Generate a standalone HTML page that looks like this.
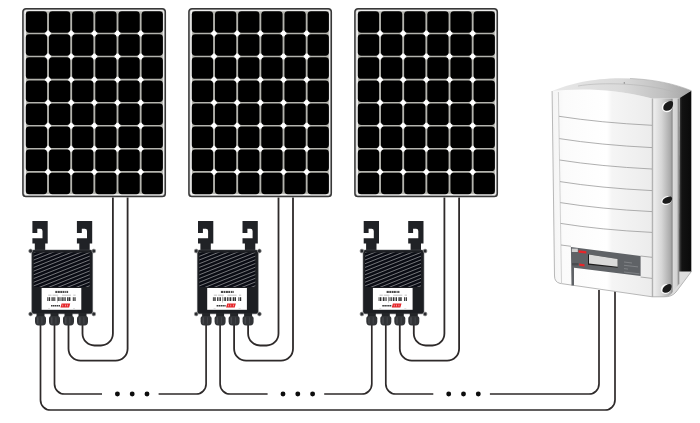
<!DOCTYPE html>
<html><head><meta charset="utf-8"><style>
html,body{margin:0;padding:0;background:#fff;width:700px;height:423px;overflow:hidden}
svg{display:block}
</style></head><body>
<svg width="700" height="423" viewBox="0 0 700 423">
<rect x="23.00" y="8.80" width="142.20" height="187.70" rx="3" fill="#fff" stroke="#383838" stroke-width="1.7"/>
<rect x="24.00" y="9.80" width="140.20" height="185.70" rx="2" fill="none" stroke="#9a9a9a" stroke-width="0.6"/>
<rect x="25.80" y="11.20" width="137.10" height="182.99" fill="#b4b4ae"/>
<circle cx="48.03" cy="33.48" r="3" fill="#fff"/>
<circle cx="48.03" cy="56.56" r="3" fill="#fff"/>
<circle cx="48.03" cy="79.63" r="3" fill="#fff"/>
<circle cx="48.03" cy="102.70" r="3" fill="#fff"/>
<circle cx="48.03" cy="125.77" r="3" fill="#fff"/>
<circle cx="48.03" cy="148.84" r="3" fill="#fff"/>
<circle cx="48.03" cy="171.91" r="3" fill="#fff"/>
<circle cx="71.19" cy="33.48" r="3" fill="#fff"/>
<circle cx="71.19" cy="56.56" r="3" fill="#fff"/>
<circle cx="71.19" cy="79.63" r="3" fill="#fff"/>
<circle cx="71.19" cy="102.70" r="3" fill="#fff"/>
<circle cx="71.19" cy="125.77" r="3" fill="#fff"/>
<circle cx="71.19" cy="148.84" r="3" fill="#fff"/>
<circle cx="71.19" cy="171.91" r="3" fill="#fff"/>
<circle cx="94.35" cy="33.48" r="3" fill="#fff"/>
<circle cx="94.35" cy="56.56" r="3" fill="#fff"/>
<circle cx="94.35" cy="79.63" r="3" fill="#fff"/>
<circle cx="94.35" cy="102.70" r="3" fill="#fff"/>
<circle cx="94.35" cy="125.77" r="3" fill="#fff"/>
<circle cx="94.35" cy="148.84" r="3" fill="#fff"/>
<circle cx="94.35" cy="171.91" r="3" fill="#fff"/>
<circle cx="117.51" cy="33.48" r="3" fill="#fff"/>
<circle cx="117.51" cy="56.56" r="3" fill="#fff"/>
<circle cx="117.51" cy="79.63" r="3" fill="#fff"/>
<circle cx="117.51" cy="102.70" r="3" fill="#fff"/>
<circle cx="117.51" cy="125.77" r="3" fill="#fff"/>
<circle cx="117.51" cy="148.84" r="3" fill="#fff"/>
<circle cx="117.51" cy="171.91" r="3" fill="#fff"/>
<circle cx="140.67" cy="33.48" r="3" fill="#fff"/>
<circle cx="140.67" cy="56.56" r="3" fill="#fff"/>
<circle cx="140.67" cy="79.63" r="3" fill="#fff"/>
<circle cx="140.67" cy="102.70" r="3" fill="#fff"/>
<circle cx="140.67" cy="125.77" r="3" fill="#fff"/>
<circle cx="140.67" cy="148.84" r="3" fill="#fff"/>
<circle cx="140.67" cy="171.91" r="3" fill="#fff"/>
<rect x="25.80" y="11.20" width="21.3" height="21.5" rx="3.4" fill="#000"/>
<rect x="25.80" y="34.27" width="21.3" height="21.5" rx="3.4" fill="#000"/>
<rect x="25.80" y="57.34" width="21.3" height="21.5" rx="3.4" fill="#000"/>
<rect x="25.80" y="80.41" width="21.3" height="21.5" rx="3.4" fill="#000"/>
<rect x="25.80" y="103.48" width="21.3" height="21.5" rx="3.4" fill="#000"/>
<rect x="25.80" y="126.55" width="21.3" height="21.5" rx="3.4" fill="#000"/>
<rect x="25.80" y="149.62" width="21.3" height="21.5" rx="3.4" fill="#000"/>
<rect x="25.80" y="172.69" width="21.3" height="21.5" rx="3.4" fill="#000"/>
<rect x="48.96" y="11.20" width="21.3" height="21.5" rx="3.4" fill="#000"/>
<rect x="48.96" y="34.27" width="21.3" height="21.5" rx="3.4" fill="#000"/>
<rect x="48.96" y="57.34" width="21.3" height="21.5" rx="3.4" fill="#000"/>
<rect x="48.96" y="80.41" width="21.3" height="21.5" rx="3.4" fill="#000"/>
<rect x="48.96" y="103.48" width="21.3" height="21.5" rx="3.4" fill="#000"/>
<rect x="48.96" y="126.55" width="21.3" height="21.5" rx="3.4" fill="#000"/>
<rect x="48.96" y="149.62" width="21.3" height="21.5" rx="3.4" fill="#000"/>
<rect x="48.96" y="172.69" width="21.3" height="21.5" rx="3.4" fill="#000"/>
<rect x="72.12" y="11.20" width="21.3" height="21.5" rx="3.4" fill="#000"/>
<rect x="72.12" y="34.27" width="21.3" height="21.5" rx="3.4" fill="#000"/>
<rect x="72.12" y="57.34" width="21.3" height="21.5" rx="3.4" fill="#000"/>
<rect x="72.12" y="80.41" width="21.3" height="21.5" rx="3.4" fill="#000"/>
<rect x="72.12" y="103.48" width="21.3" height="21.5" rx="3.4" fill="#000"/>
<rect x="72.12" y="126.55" width="21.3" height="21.5" rx="3.4" fill="#000"/>
<rect x="72.12" y="149.62" width="21.3" height="21.5" rx="3.4" fill="#000"/>
<rect x="72.12" y="172.69" width="21.3" height="21.5" rx="3.4" fill="#000"/>
<rect x="95.28" y="11.20" width="21.3" height="21.5" rx="3.4" fill="#000"/>
<rect x="95.28" y="34.27" width="21.3" height="21.5" rx="3.4" fill="#000"/>
<rect x="95.28" y="57.34" width="21.3" height="21.5" rx="3.4" fill="#000"/>
<rect x="95.28" y="80.41" width="21.3" height="21.5" rx="3.4" fill="#000"/>
<rect x="95.28" y="103.48" width="21.3" height="21.5" rx="3.4" fill="#000"/>
<rect x="95.28" y="126.55" width="21.3" height="21.5" rx="3.4" fill="#000"/>
<rect x="95.28" y="149.62" width="21.3" height="21.5" rx="3.4" fill="#000"/>
<rect x="95.28" y="172.69" width="21.3" height="21.5" rx="3.4" fill="#000"/>
<rect x="118.44" y="11.20" width="21.3" height="21.5" rx="3.4" fill="#000"/>
<rect x="118.44" y="34.27" width="21.3" height="21.5" rx="3.4" fill="#000"/>
<rect x="118.44" y="57.34" width="21.3" height="21.5" rx="3.4" fill="#000"/>
<rect x="118.44" y="80.41" width="21.3" height="21.5" rx="3.4" fill="#000"/>
<rect x="118.44" y="103.48" width="21.3" height="21.5" rx="3.4" fill="#000"/>
<rect x="118.44" y="126.55" width="21.3" height="21.5" rx="3.4" fill="#000"/>
<rect x="118.44" y="149.62" width="21.3" height="21.5" rx="3.4" fill="#000"/>
<rect x="118.44" y="172.69" width="21.3" height="21.5" rx="3.4" fill="#000"/>
<rect x="141.60" y="11.20" width="21.3" height="21.5" rx="3.4" fill="#000"/>
<rect x="141.60" y="34.27" width="21.3" height="21.5" rx="3.4" fill="#000"/>
<rect x="141.60" y="57.34" width="21.3" height="21.5" rx="3.4" fill="#000"/>
<rect x="141.60" y="80.41" width="21.3" height="21.5" rx="3.4" fill="#000"/>
<rect x="141.60" y="103.48" width="21.3" height="21.5" rx="3.4" fill="#000"/>
<rect x="141.60" y="126.55" width="21.3" height="21.5" rx="3.4" fill="#000"/>
<rect x="141.60" y="149.62" width="21.3" height="21.5" rx="3.4" fill="#000"/>
<rect x="141.60" y="172.69" width="21.3" height="21.5" rx="3.4" fill="#000"/>
<rect x="189.00" y="8.80" width="142.20" height="187.70" rx="3" fill="#fff" stroke="#383838" stroke-width="1.7"/>
<rect x="190.00" y="9.80" width="140.20" height="185.70" rx="2" fill="none" stroke="#9a9a9a" stroke-width="0.6"/>
<rect x="191.80" y="11.20" width="137.10" height="182.99" fill="#b4b4ae"/>
<circle cx="214.03" cy="33.48" r="3" fill="#fff"/>
<circle cx="214.03" cy="56.56" r="3" fill="#fff"/>
<circle cx="214.03" cy="79.63" r="3" fill="#fff"/>
<circle cx="214.03" cy="102.70" r="3" fill="#fff"/>
<circle cx="214.03" cy="125.77" r="3" fill="#fff"/>
<circle cx="214.03" cy="148.84" r="3" fill="#fff"/>
<circle cx="214.03" cy="171.91" r="3" fill="#fff"/>
<circle cx="237.19" cy="33.48" r="3" fill="#fff"/>
<circle cx="237.19" cy="56.56" r="3" fill="#fff"/>
<circle cx="237.19" cy="79.63" r="3" fill="#fff"/>
<circle cx="237.19" cy="102.70" r="3" fill="#fff"/>
<circle cx="237.19" cy="125.77" r="3" fill="#fff"/>
<circle cx="237.19" cy="148.84" r="3" fill="#fff"/>
<circle cx="237.19" cy="171.91" r="3" fill="#fff"/>
<circle cx="260.35" cy="33.48" r="3" fill="#fff"/>
<circle cx="260.35" cy="56.56" r="3" fill="#fff"/>
<circle cx="260.35" cy="79.63" r="3" fill="#fff"/>
<circle cx="260.35" cy="102.70" r="3" fill="#fff"/>
<circle cx="260.35" cy="125.77" r="3" fill="#fff"/>
<circle cx="260.35" cy="148.84" r="3" fill="#fff"/>
<circle cx="260.35" cy="171.91" r="3" fill="#fff"/>
<circle cx="283.51" cy="33.48" r="3" fill="#fff"/>
<circle cx="283.51" cy="56.56" r="3" fill="#fff"/>
<circle cx="283.51" cy="79.63" r="3" fill="#fff"/>
<circle cx="283.51" cy="102.70" r="3" fill="#fff"/>
<circle cx="283.51" cy="125.77" r="3" fill="#fff"/>
<circle cx="283.51" cy="148.84" r="3" fill="#fff"/>
<circle cx="283.51" cy="171.91" r="3" fill="#fff"/>
<circle cx="306.67" cy="33.48" r="3" fill="#fff"/>
<circle cx="306.67" cy="56.56" r="3" fill="#fff"/>
<circle cx="306.67" cy="79.63" r="3" fill="#fff"/>
<circle cx="306.67" cy="102.70" r="3" fill="#fff"/>
<circle cx="306.67" cy="125.77" r="3" fill="#fff"/>
<circle cx="306.67" cy="148.84" r="3" fill="#fff"/>
<circle cx="306.67" cy="171.91" r="3" fill="#fff"/>
<rect x="191.80" y="11.20" width="21.3" height="21.5" rx="3.4" fill="#000"/>
<rect x="191.80" y="34.27" width="21.3" height="21.5" rx="3.4" fill="#000"/>
<rect x="191.80" y="57.34" width="21.3" height="21.5" rx="3.4" fill="#000"/>
<rect x="191.80" y="80.41" width="21.3" height="21.5" rx="3.4" fill="#000"/>
<rect x="191.80" y="103.48" width="21.3" height="21.5" rx="3.4" fill="#000"/>
<rect x="191.80" y="126.55" width="21.3" height="21.5" rx="3.4" fill="#000"/>
<rect x="191.80" y="149.62" width="21.3" height="21.5" rx="3.4" fill="#000"/>
<rect x="191.80" y="172.69" width="21.3" height="21.5" rx="3.4" fill="#000"/>
<rect x="214.96" y="11.20" width="21.3" height="21.5" rx="3.4" fill="#000"/>
<rect x="214.96" y="34.27" width="21.3" height="21.5" rx="3.4" fill="#000"/>
<rect x="214.96" y="57.34" width="21.3" height="21.5" rx="3.4" fill="#000"/>
<rect x="214.96" y="80.41" width="21.3" height="21.5" rx="3.4" fill="#000"/>
<rect x="214.96" y="103.48" width="21.3" height="21.5" rx="3.4" fill="#000"/>
<rect x="214.96" y="126.55" width="21.3" height="21.5" rx="3.4" fill="#000"/>
<rect x="214.96" y="149.62" width="21.3" height="21.5" rx="3.4" fill="#000"/>
<rect x="214.96" y="172.69" width="21.3" height="21.5" rx="3.4" fill="#000"/>
<rect x="238.12" y="11.20" width="21.3" height="21.5" rx="3.4" fill="#000"/>
<rect x="238.12" y="34.27" width="21.3" height="21.5" rx="3.4" fill="#000"/>
<rect x="238.12" y="57.34" width="21.3" height="21.5" rx="3.4" fill="#000"/>
<rect x="238.12" y="80.41" width="21.3" height="21.5" rx="3.4" fill="#000"/>
<rect x="238.12" y="103.48" width="21.3" height="21.5" rx="3.4" fill="#000"/>
<rect x="238.12" y="126.55" width="21.3" height="21.5" rx="3.4" fill="#000"/>
<rect x="238.12" y="149.62" width="21.3" height="21.5" rx="3.4" fill="#000"/>
<rect x="238.12" y="172.69" width="21.3" height="21.5" rx="3.4" fill="#000"/>
<rect x="261.28" y="11.20" width="21.3" height="21.5" rx="3.4" fill="#000"/>
<rect x="261.28" y="34.27" width="21.3" height="21.5" rx="3.4" fill="#000"/>
<rect x="261.28" y="57.34" width="21.3" height="21.5" rx="3.4" fill="#000"/>
<rect x="261.28" y="80.41" width="21.3" height="21.5" rx="3.4" fill="#000"/>
<rect x="261.28" y="103.48" width="21.3" height="21.5" rx="3.4" fill="#000"/>
<rect x="261.28" y="126.55" width="21.3" height="21.5" rx="3.4" fill="#000"/>
<rect x="261.28" y="149.62" width="21.3" height="21.5" rx="3.4" fill="#000"/>
<rect x="261.28" y="172.69" width="21.3" height="21.5" rx="3.4" fill="#000"/>
<rect x="284.44" y="11.20" width="21.3" height="21.5" rx="3.4" fill="#000"/>
<rect x="284.44" y="34.27" width="21.3" height="21.5" rx="3.4" fill="#000"/>
<rect x="284.44" y="57.34" width="21.3" height="21.5" rx="3.4" fill="#000"/>
<rect x="284.44" y="80.41" width="21.3" height="21.5" rx="3.4" fill="#000"/>
<rect x="284.44" y="103.48" width="21.3" height="21.5" rx="3.4" fill="#000"/>
<rect x="284.44" y="126.55" width="21.3" height="21.5" rx="3.4" fill="#000"/>
<rect x="284.44" y="149.62" width="21.3" height="21.5" rx="3.4" fill="#000"/>
<rect x="284.44" y="172.69" width="21.3" height="21.5" rx="3.4" fill="#000"/>
<rect x="307.60" y="11.20" width="21.3" height="21.5" rx="3.4" fill="#000"/>
<rect x="307.60" y="34.27" width="21.3" height="21.5" rx="3.4" fill="#000"/>
<rect x="307.60" y="57.34" width="21.3" height="21.5" rx="3.4" fill="#000"/>
<rect x="307.60" y="80.41" width="21.3" height="21.5" rx="3.4" fill="#000"/>
<rect x="307.60" y="103.48" width="21.3" height="21.5" rx="3.4" fill="#000"/>
<rect x="307.60" y="126.55" width="21.3" height="21.5" rx="3.4" fill="#000"/>
<rect x="307.60" y="149.62" width="21.3" height="21.5" rx="3.4" fill="#000"/>
<rect x="307.60" y="172.69" width="21.3" height="21.5" rx="3.4" fill="#000"/>
<rect x="355.00" y="8.80" width="142.20" height="187.70" rx="3" fill="#fff" stroke="#383838" stroke-width="1.7"/>
<rect x="356.00" y="9.80" width="140.20" height="185.70" rx="2" fill="none" stroke="#9a9a9a" stroke-width="0.6"/>
<rect x="357.80" y="11.20" width="137.10" height="182.99" fill="#b4b4ae"/>
<circle cx="380.03" cy="33.48" r="3" fill="#fff"/>
<circle cx="380.03" cy="56.56" r="3" fill="#fff"/>
<circle cx="380.03" cy="79.63" r="3" fill="#fff"/>
<circle cx="380.03" cy="102.70" r="3" fill="#fff"/>
<circle cx="380.03" cy="125.77" r="3" fill="#fff"/>
<circle cx="380.03" cy="148.84" r="3" fill="#fff"/>
<circle cx="380.03" cy="171.91" r="3" fill="#fff"/>
<circle cx="403.19" cy="33.48" r="3" fill="#fff"/>
<circle cx="403.19" cy="56.56" r="3" fill="#fff"/>
<circle cx="403.19" cy="79.63" r="3" fill="#fff"/>
<circle cx="403.19" cy="102.70" r="3" fill="#fff"/>
<circle cx="403.19" cy="125.77" r="3" fill="#fff"/>
<circle cx="403.19" cy="148.84" r="3" fill="#fff"/>
<circle cx="403.19" cy="171.91" r="3" fill="#fff"/>
<circle cx="426.35" cy="33.48" r="3" fill="#fff"/>
<circle cx="426.35" cy="56.56" r="3" fill="#fff"/>
<circle cx="426.35" cy="79.63" r="3" fill="#fff"/>
<circle cx="426.35" cy="102.70" r="3" fill="#fff"/>
<circle cx="426.35" cy="125.77" r="3" fill="#fff"/>
<circle cx="426.35" cy="148.84" r="3" fill="#fff"/>
<circle cx="426.35" cy="171.91" r="3" fill="#fff"/>
<circle cx="449.51" cy="33.48" r="3" fill="#fff"/>
<circle cx="449.51" cy="56.56" r="3" fill="#fff"/>
<circle cx="449.51" cy="79.63" r="3" fill="#fff"/>
<circle cx="449.51" cy="102.70" r="3" fill="#fff"/>
<circle cx="449.51" cy="125.77" r="3" fill="#fff"/>
<circle cx="449.51" cy="148.84" r="3" fill="#fff"/>
<circle cx="449.51" cy="171.91" r="3" fill="#fff"/>
<circle cx="472.67" cy="33.48" r="3" fill="#fff"/>
<circle cx="472.67" cy="56.56" r="3" fill="#fff"/>
<circle cx="472.67" cy="79.63" r="3" fill="#fff"/>
<circle cx="472.67" cy="102.70" r="3" fill="#fff"/>
<circle cx="472.67" cy="125.77" r="3" fill="#fff"/>
<circle cx="472.67" cy="148.84" r="3" fill="#fff"/>
<circle cx="472.67" cy="171.91" r="3" fill="#fff"/>
<rect x="357.80" y="11.20" width="21.3" height="21.5" rx="3.4" fill="#000"/>
<rect x="357.80" y="34.27" width="21.3" height="21.5" rx="3.4" fill="#000"/>
<rect x="357.80" y="57.34" width="21.3" height="21.5" rx="3.4" fill="#000"/>
<rect x="357.80" y="80.41" width="21.3" height="21.5" rx="3.4" fill="#000"/>
<rect x="357.80" y="103.48" width="21.3" height="21.5" rx="3.4" fill="#000"/>
<rect x="357.80" y="126.55" width="21.3" height="21.5" rx="3.4" fill="#000"/>
<rect x="357.80" y="149.62" width="21.3" height="21.5" rx="3.4" fill="#000"/>
<rect x="357.80" y="172.69" width="21.3" height="21.5" rx="3.4" fill="#000"/>
<rect x="380.96" y="11.20" width="21.3" height="21.5" rx="3.4" fill="#000"/>
<rect x="380.96" y="34.27" width="21.3" height="21.5" rx="3.4" fill="#000"/>
<rect x="380.96" y="57.34" width="21.3" height="21.5" rx="3.4" fill="#000"/>
<rect x="380.96" y="80.41" width="21.3" height="21.5" rx="3.4" fill="#000"/>
<rect x="380.96" y="103.48" width="21.3" height="21.5" rx="3.4" fill="#000"/>
<rect x="380.96" y="126.55" width="21.3" height="21.5" rx="3.4" fill="#000"/>
<rect x="380.96" y="149.62" width="21.3" height="21.5" rx="3.4" fill="#000"/>
<rect x="380.96" y="172.69" width="21.3" height="21.5" rx="3.4" fill="#000"/>
<rect x="404.12" y="11.20" width="21.3" height="21.5" rx="3.4" fill="#000"/>
<rect x="404.12" y="34.27" width="21.3" height="21.5" rx="3.4" fill="#000"/>
<rect x="404.12" y="57.34" width="21.3" height="21.5" rx="3.4" fill="#000"/>
<rect x="404.12" y="80.41" width="21.3" height="21.5" rx="3.4" fill="#000"/>
<rect x="404.12" y="103.48" width="21.3" height="21.5" rx="3.4" fill="#000"/>
<rect x="404.12" y="126.55" width="21.3" height="21.5" rx="3.4" fill="#000"/>
<rect x="404.12" y="149.62" width="21.3" height="21.5" rx="3.4" fill="#000"/>
<rect x="404.12" y="172.69" width="21.3" height="21.5" rx="3.4" fill="#000"/>
<rect x="427.28" y="11.20" width="21.3" height="21.5" rx="3.4" fill="#000"/>
<rect x="427.28" y="34.27" width="21.3" height="21.5" rx="3.4" fill="#000"/>
<rect x="427.28" y="57.34" width="21.3" height="21.5" rx="3.4" fill="#000"/>
<rect x="427.28" y="80.41" width="21.3" height="21.5" rx="3.4" fill="#000"/>
<rect x="427.28" y="103.48" width="21.3" height="21.5" rx="3.4" fill="#000"/>
<rect x="427.28" y="126.55" width="21.3" height="21.5" rx="3.4" fill="#000"/>
<rect x="427.28" y="149.62" width="21.3" height="21.5" rx="3.4" fill="#000"/>
<rect x="427.28" y="172.69" width="21.3" height="21.5" rx="3.4" fill="#000"/>
<rect x="450.44" y="11.20" width="21.3" height="21.5" rx="3.4" fill="#000"/>
<rect x="450.44" y="34.27" width="21.3" height="21.5" rx="3.4" fill="#000"/>
<rect x="450.44" y="57.34" width="21.3" height="21.5" rx="3.4" fill="#000"/>
<rect x="450.44" y="80.41" width="21.3" height="21.5" rx="3.4" fill="#000"/>
<rect x="450.44" y="103.48" width="21.3" height="21.5" rx="3.4" fill="#000"/>
<rect x="450.44" y="126.55" width="21.3" height="21.5" rx="3.4" fill="#000"/>
<rect x="450.44" y="149.62" width="21.3" height="21.5" rx="3.4" fill="#000"/>
<rect x="450.44" y="172.69" width="21.3" height="21.5" rx="3.4" fill="#000"/>
<rect x="473.60" y="11.20" width="21.3" height="21.5" rx="3.4" fill="#000"/>
<rect x="473.60" y="34.27" width="21.3" height="21.5" rx="3.4" fill="#000"/>
<rect x="473.60" y="57.34" width="21.3" height="21.5" rx="3.4" fill="#000"/>
<rect x="473.60" y="80.41" width="21.3" height="21.5" rx="3.4" fill="#000"/>
<rect x="473.60" y="103.48" width="21.3" height="21.5" rx="3.4" fill="#000"/>
<rect x="473.60" y="126.55" width="21.3" height="21.5" rx="3.4" fill="#000"/>
<rect x="473.60" y="149.62" width="21.3" height="21.5" rx="3.4" fill="#000"/>
<rect x="473.60" y="172.69" width="21.3" height="21.5" rx="3.4" fill="#000"/>
<path fill="none" stroke="#2e2a2a" stroke-width="1.8" d="M82.5,325 V333.5 A12,12 0 0 0 94.5,345.5 H100.9 A12,12 0 0 0 112.9,333.5 V197.5"/>
<path fill="none" stroke="#2e2a2a" stroke-width="1.8" d="M68.5,325 V348.7 A12,12 0 0 0 80.5,360.7 H115.6 A12,12 0 0 0 127.6,348.7 V197.5"/>
<path fill="none" stroke="#2e2a2a" stroke-width="1.8" d="M248.1,325 V333.5 A12,12 0 0 0 260.1,345.5 H266.5 A12,12 0 0 0 278.5,333.5 V197.5"/>
<path fill="none" stroke="#2e2a2a" stroke-width="1.8" d="M234.1,325 V348.7 A12,12 0 0 0 246.1,360.7 H281.0 A12,12 0 0 0 293.0,348.7 V197.5"/>
<path fill="none" stroke="#2e2a2a" stroke-width="1.8" d="M413.8,325 V333.5 A12,12 0 0 0 425.8,345.5 H432.4 A12,12 0 0 0 444.4,333.5 V197.5"/>
<path fill="none" stroke="#2e2a2a" stroke-width="1.8" d="M399.8,325 V348.7 A12,12 0 0 0 411.8,360.7 H447.1 A12,12 0 0 0 459.1,348.7 V197.5"/>
<path fill="none" stroke="#2e2a2a" stroke-width="1.7" d="M40.5,325 V400 A10,10 0 0 0 50.5,410 H605 A10,10 0 0 0 615,400 V290"/>
<path fill="none" stroke="#2e2a2a" stroke-width="1.7" d="M54.5,325 V384 A10,10 0 0 0 64.5,394 H102.0"/>
<circle cx="117.4" cy="394" r="2.45" fill="#0c0c0c"/>
<circle cx="132.2" cy="394" r="2.45" fill="#0c0c0c"/>
<circle cx="147.0" cy="394" r="2.45" fill="#0c0c0c"/>
<path fill="none" stroke="#2e2a2a" stroke-width="1.7" d="M158.6,394 H196.1 A10,10 0 0 0 206.1,384 V325"/>
<path fill="none" stroke="#2e2a2a" stroke-width="1.7" d="M220.1,325 V384 A10,10 0 0 0 230.1,394 H267.6"/>
<circle cx="283.0" cy="394" r="2.45" fill="#0c0c0c"/>
<circle cx="297.79999999999995" cy="394" r="2.45" fill="#0c0c0c"/>
<circle cx="312.6" cy="394" r="2.45" fill="#0c0c0c"/>
<path fill="none" stroke="#2e2a2a" stroke-width="1.7" d="M324.2,394 H361.8 A10,10 0 0 0 371.8,384 V325"/>
<path fill="none" stroke="#2e2a2a" stroke-width="1.7" d="M385.8,325 V384 A10,10 0 0 0 395.8,394 H433.3"/>
<circle cx="448.70000000000005" cy="394" r="2.45" fill="#0c0c0c"/>
<circle cx="463.5" cy="394" r="2.45" fill="#0c0c0c"/>
<circle cx="478.3" cy="394" r="2.45" fill="#0c0c0c"/>
<path fill="none" stroke="#2e2a2a" stroke-width="1.7" d="M489.9,394 H589 A10,10 0 0 0 599,384 V290"/>
<g transform="translate(0.0,0)">
<path d="M32.4,221 H47.7 V243.4 H45.2 V251 H34.8 V243.4 H32.4 V238.2 H42.5 V230.9 Q42.5,228.7 40.3,228.7 H37.3 V233 H32.4 Z" fill="#202226"/>
<path d="M76.9,221 H92.2 V243.4 H89.7 V251 H79.30000000000001 V243.4 H76.9 V238.2 H87.0 V230.9 Q87.0,228.7 84.80000000000001,228.7 H81.80000000000001 V233 H76.9 Z" fill="#202226"/>
<rect x="31.8" y="250" width="60.8" height="63.8" rx="2" fill="#1c1e22" stroke="#4a4c50" stroke-width="0.5"/>
<circle cx="30.6" cy="251" r="1.9" fill="#2a2c30" stroke="#9a9a9a" stroke-width="0.7"/>
<circle cx="93.8" cy="251" r="1.9" fill="#2a2c30" stroke="#9a9a9a" stroke-width="0.7"/>
<circle cx="30.6" cy="314" r="1.9" fill="#2a2c30" stroke="#9a9a9a" stroke-width="0.7"/>
<circle cx="93.8" cy="314" r="1.9" fill="#2a2c30" stroke="#9a9a9a" stroke-width="0.7"/>
<clipPath id="cl0"><rect x="33.7" y="252.5" width="56" height="34.5"/></clipPath>
<g clip-path="url(#cl0)">
<rect x="33.7" y="252.5" width="56" height="34.5" fill="#0a0c14"/>
<g stroke="#75767a" stroke-width="1.0">
<line x1="30" y1="191.20" x2="95" y2="165.20"/>
<line x1="30" y1="194.90" x2="95" y2="168.90"/>
<line x1="30" y1="198.60" x2="95" y2="172.60"/>
<line x1="30" y1="202.30" x2="95" y2="176.30"/>
<line x1="30" y1="206.00" x2="95" y2="180.00"/>
<line x1="30" y1="209.70" x2="95" y2="183.70"/>
<line x1="30" y1="213.40" x2="95" y2="187.40"/>
<line x1="30" y1="217.10" x2="95" y2="191.10"/>
<line x1="30" y1="220.80" x2="95" y2="194.80"/>
<line x1="30" y1="224.50" x2="95" y2="198.50"/>
<line x1="30" y1="228.20" x2="95" y2="202.20"/>
<line x1="30" y1="231.90" x2="95" y2="205.90"/>
<line x1="30" y1="235.60" x2="95" y2="209.60"/>
<line x1="30" y1="239.30" x2="95" y2="213.30"/>
<line x1="30" y1="243.00" x2="95" y2="217.00"/>
<line x1="30" y1="246.70" x2="95" y2="220.70"/>
<line x1="30" y1="250.40" x2="95" y2="224.40"/>
<line x1="30" y1="254.10" x2="95" y2="228.10"/>
<line x1="30" y1="257.80" x2="95" y2="231.80"/>
<line x1="30" y1="261.50" x2="95" y2="235.50"/>
<line x1="30" y1="265.20" x2="95" y2="239.20"/>
<line x1="30" y1="268.90" x2="95" y2="242.90"/>
<line x1="30" y1="272.60" x2="95" y2="246.60"/>
<line x1="30" y1="276.30" x2="95" y2="250.30"/>
<line x1="30" y1="280.00" x2="95" y2="254.00"/>
<line x1="30" y1="283.70" x2="95" y2="257.70"/>
<line x1="30" y1="287.40" x2="95" y2="261.40"/>
<line x1="30" y1="291.10" x2="95" y2="265.10"/>
<line x1="30" y1="294.80" x2="95" y2="268.80"/>
<line x1="30" y1="298.50" x2="95" y2="272.50"/>
<line x1="30" y1="302.20" x2="95" y2="276.20"/>
<line x1="30" y1="305.90" x2="95" y2="279.90"/>
<line x1="30" y1="309.60" x2="95" y2="283.60"/>
<line x1="30" y1="313.30" x2="95" y2="287.30"/>
<line x1="30" y1="317.00" x2="95" y2="291.00"/>
<line x1="30" y1="320.70" x2="95" y2="294.70"/>
<line x1="30" y1="324.40" x2="95" y2="298.40"/>
<line x1="30" y1="328.10" x2="95" y2="302.10"/>
</g></g>
<rect x="41.6" y="288" width="39.7" height="21.8" fill="#fff"/>
<g fill="#4a4a4a"><rect x="55.3" y="290.9" width="2.2" height="2.1"/><rect x="58" y="290.9" width="1.8" height="2.1"/><rect x="60.3" y="290.9" width="2" height="2.1"/><rect x="62.7" y="290.9" width="1.8" height="2.1"/><rect x="65.2" y="290.9" width="1.2" height="2.1"/><rect x="66.8" y="290.9" width="1.3" height="2.1"/></g>
<g fill="#b8b8b8"><rect x="48.2" y="294.7" width="3.3" height="0.9"/><rect x="52.5" y="294.7" width="5.7" height="0.9"/><rect x="62" y="294.7" width="9" height="0.9"/><rect x="73.3" y="294.7" width="2.3" height="0.9"/></g>
<g fill="#2e2e2e">
<rect x="47.3" y="297.2" width="0.9" height="3.8"/>
<rect x="48.7" y="297.2" width="1.4" height="3.8"/>
<rect x="51.5" y="297.2" width="1.2" height="3.8"/>
<rect x="53.2" y="297.2" width="0.7" height="3.8"/>
<rect x="54.3" y="297.2" width="1.0" height="3.8"/>
<rect x="57.0" y="297.2" width="0.45" height="3.8"/>
<rect x="58.2" y="297.2" width="0.9" height="3.8"/>
<rect x="59.5" y="297.2" width="1.0" height="3.8"/>
<rect x="61.5" y="297.2" width="1.3" height="3.8"/>
<rect x="63.3" y="297.2" width="0.6" height="3.8"/>
<rect x="64.4" y="297.2" width="1.3" height="3.8"/>
<rect x="67.1" y="297.2" width="1.4" height="3.8"/>
<rect x="68.9" y="297.2" width="1.5" height="3.8"/>
<rect x="72.8" y="297.2" width="1.0" height="3.8"/>
<rect x="74.4" y="297.2" width="1.2" height="3.8"/>
</g>
<rect x="57.05" y="296.5" width="0.35" height="6.2" fill="#777"/>
<g fill="#3a3a3a"><rect x="51" y="305" width="1.6" height="1.5"/><rect x="53" y="305" width="1.6" height="1.5"/><rect x="55" y="305" width="1.4" height="1.5"/><rect x="56.8" y="305" width="1.5" height="1.5"/><rect x="58.7" y="305" width="1.3" height="1.5"/></g>
<path d="M60.5,307.4 L61.6,303.6 H70.2 L69.1,307.4 Z" fill="#e5262a"/>
<g fill="#fff"><rect x="62.6" y="304.6" width="0.5" height="1.8"/><rect x="65" y="304.6" width="0.5" height="1.8"/><rect x="67.4" y="304.6" width="0.5" height="1.8"/></g>
<g fill="#ccc"><rect x="48" y="308.3" width="2" height="0.6"/><rect x="73" y="308.3" width="2" height="0.6"/></g>
<rect x="36.5" y="312.8" width="8" height="4.6" rx="1" fill="#232528"/>
<path d="M35.0,318.5 Q35.0,316 37.5,316 H43.5 Q46.0,316 46.0,318.5 V321.5 Q46.0,325.5 42.5,325.5 H38.5 Q35.0,325.5 35.0,321.5 Z" fill="#313336"/>
<rect x="36.9" y="317.3" width="1.6" height="6.5" fill="#46484c"/>
<rect x="41.3" y="317.3" width="1.2" height="6.5" fill="#404246"/>
<rect x="50.5" y="312.8" width="8" height="4.6" rx="1" fill="#232528"/>
<path d="M49.0,318.5 Q49.0,316 51.5,316 H57.5 Q60.0,316 60.0,318.5 V321.5 Q60.0,325.5 56.5,325.5 H52.5 Q49.0,325.5 49.0,321.5 Z" fill="#313336"/>
<rect x="50.9" y="317.3" width="1.6" height="6.5" fill="#46484c"/>
<rect x="55.3" y="317.3" width="1.2" height="6.5" fill="#404246"/>
<rect x="64.5" y="312.8" width="8" height="4.6" rx="1" fill="#232528"/>
<path d="M63.0,318.5 Q63.0,316 65.5,316 H71.5 Q74.0,316 74.0,318.5 V321.5 Q74.0,325.5 70.5,325.5 H66.5 Q63.0,325.5 63.0,321.5 Z" fill="#313336"/>
<rect x="64.9" y="317.3" width="1.6" height="6.5" fill="#46484c"/>
<rect x="69.3" y="317.3" width="1.2" height="6.5" fill="#404246"/>
<rect x="78.5" y="312.8" width="8" height="4.6" rx="1" fill="#232528"/>
<path d="M77.0,318.5 Q77.0,316 79.5,316 H85.5 Q88.0,316 88.0,318.5 V321.5 Q88.0,325.5 84.5,325.5 H80.5 Q77.0,325.5 77.0,321.5 Z" fill="#313336"/>
<rect x="78.9" y="317.3" width="1.6" height="6.5" fill="#46484c"/>
<rect x="83.3" y="317.3" width="1.2" height="6.5" fill="#404246"/>
</g>
<g transform="translate(165.6,0)">
<path d="M32.4,221 H47.7 V243.4 H45.2 V251 H34.8 V243.4 H32.4 V238.2 H42.5 V230.9 Q42.5,228.7 40.3,228.7 H37.3 V233 H32.4 Z" fill="#202226"/>
<path d="M76.9,221 H92.2 V243.4 H89.7 V251 H79.30000000000001 V243.4 H76.9 V238.2 H87.0 V230.9 Q87.0,228.7 84.80000000000001,228.7 H81.80000000000001 V233 H76.9 Z" fill="#202226"/>
<rect x="31.8" y="250" width="60.8" height="63.8" rx="2" fill="#1c1e22" stroke="#4a4c50" stroke-width="0.5"/>
<circle cx="30.6" cy="251" r="1.9" fill="#2a2c30" stroke="#9a9a9a" stroke-width="0.7"/>
<circle cx="93.8" cy="251" r="1.9" fill="#2a2c30" stroke="#9a9a9a" stroke-width="0.7"/>
<circle cx="30.6" cy="314" r="1.9" fill="#2a2c30" stroke="#9a9a9a" stroke-width="0.7"/>
<circle cx="93.8" cy="314" r="1.9" fill="#2a2c30" stroke="#9a9a9a" stroke-width="0.7"/>
<clipPath id="cl165"><rect x="33.7" y="252.5" width="56" height="34.5"/></clipPath>
<g clip-path="url(#cl165)">
<rect x="33.7" y="252.5" width="56" height="34.5" fill="#0a0c14"/>
<g stroke="#75767a" stroke-width="1.0">
<line x1="30" y1="191.20" x2="95" y2="165.20"/>
<line x1="30" y1="194.90" x2="95" y2="168.90"/>
<line x1="30" y1="198.60" x2="95" y2="172.60"/>
<line x1="30" y1="202.30" x2="95" y2="176.30"/>
<line x1="30" y1="206.00" x2="95" y2="180.00"/>
<line x1="30" y1="209.70" x2="95" y2="183.70"/>
<line x1="30" y1="213.40" x2="95" y2="187.40"/>
<line x1="30" y1="217.10" x2="95" y2="191.10"/>
<line x1="30" y1="220.80" x2="95" y2="194.80"/>
<line x1="30" y1="224.50" x2="95" y2="198.50"/>
<line x1="30" y1="228.20" x2="95" y2="202.20"/>
<line x1="30" y1="231.90" x2="95" y2="205.90"/>
<line x1="30" y1="235.60" x2="95" y2="209.60"/>
<line x1="30" y1="239.30" x2="95" y2="213.30"/>
<line x1="30" y1="243.00" x2="95" y2="217.00"/>
<line x1="30" y1="246.70" x2="95" y2="220.70"/>
<line x1="30" y1="250.40" x2="95" y2="224.40"/>
<line x1="30" y1="254.10" x2="95" y2="228.10"/>
<line x1="30" y1="257.80" x2="95" y2="231.80"/>
<line x1="30" y1="261.50" x2="95" y2="235.50"/>
<line x1="30" y1="265.20" x2="95" y2="239.20"/>
<line x1="30" y1="268.90" x2="95" y2="242.90"/>
<line x1="30" y1="272.60" x2="95" y2="246.60"/>
<line x1="30" y1="276.30" x2="95" y2="250.30"/>
<line x1="30" y1="280.00" x2="95" y2="254.00"/>
<line x1="30" y1="283.70" x2="95" y2="257.70"/>
<line x1="30" y1="287.40" x2="95" y2="261.40"/>
<line x1="30" y1="291.10" x2="95" y2="265.10"/>
<line x1="30" y1="294.80" x2="95" y2="268.80"/>
<line x1="30" y1="298.50" x2="95" y2="272.50"/>
<line x1="30" y1="302.20" x2="95" y2="276.20"/>
<line x1="30" y1="305.90" x2="95" y2="279.90"/>
<line x1="30" y1="309.60" x2="95" y2="283.60"/>
<line x1="30" y1="313.30" x2="95" y2="287.30"/>
<line x1="30" y1="317.00" x2="95" y2="291.00"/>
<line x1="30" y1="320.70" x2="95" y2="294.70"/>
<line x1="30" y1="324.40" x2="95" y2="298.40"/>
<line x1="30" y1="328.10" x2="95" y2="302.10"/>
</g></g>
<rect x="41.6" y="288" width="39.7" height="21.8" fill="#fff"/>
<g fill="#4a4a4a"><rect x="55.3" y="290.9" width="2.2" height="2.1"/><rect x="58" y="290.9" width="1.8" height="2.1"/><rect x="60.3" y="290.9" width="2" height="2.1"/><rect x="62.7" y="290.9" width="1.8" height="2.1"/><rect x="65.2" y="290.9" width="1.2" height="2.1"/><rect x="66.8" y="290.9" width="1.3" height="2.1"/></g>
<g fill="#b8b8b8"><rect x="48.2" y="294.7" width="3.3" height="0.9"/><rect x="52.5" y="294.7" width="5.7" height="0.9"/><rect x="62" y="294.7" width="9" height="0.9"/><rect x="73.3" y="294.7" width="2.3" height="0.9"/></g>
<g fill="#2e2e2e">
<rect x="47.3" y="297.2" width="0.9" height="3.8"/>
<rect x="48.7" y="297.2" width="1.4" height="3.8"/>
<rect x="51.5" y="297.2" width="1.2" height="3.8"/>
<rect x="53.2" y="297.2" width="0.7" height="3.8"/>
<rect x="54.3" y="297.2" width="1.0" height="3.8"/>
<rect x="57.0" y="297.2" width="0.45" height="3.8"/>
<rect x="58.2" y="297.2" width="0.9" height="3.8"/>
<rect x="59.5" y="297.2" width="1.0" height="3.8"/>
<rect x="61.5" y="297.2" width="1.3" height="3.8"/>
<rect x="63.3" y="297.2" width="0.6" height="3.8"/>
<rect x="64.4" y="297.2" width="1.3" height="3.8"/>
<rect x="67.1" y="297.2" width="1.4" height="3.8"/>
<rect x="68.9" y="297.2" width="1.5" height="3.8"/>
<rect x="72.8" y="297.2" width="1.0" height="3.8"/>
<rect x="74.4" y="297.2" width="1.2" height="3.8"/>
</g>
<rect x="57.05" y="296.5" width="0.35" height="6.2" fill="#777"/>
<g fill="#3a3a3a"><rect x="51" y="305" width="1.6" height="1.5"/><rect x="53" y="305" width="1.6" height="1.5"/><rect x="55" y="305" width="1.4" height="1.5"/><rect x="56.8" y="305" width="1.5" height="1.5"/><rect x="58.7" y="305" width="1.3" height="1.5"/></g>
<path d="M60.5,307.4 L61.6,303.6 H70.2 L69.1,307.4 Z" fill="#e5262a"/>
<g fill="#fff"><rect x="62.6" y="304.6" width="0.5" height="1.8"/><rect x="65" y="304.6" width="0.5" height="1.8"/><rect x="67.4" y="304.6" width="0.5" height="1.8"/></g>
<g fill="#ccc"><rect x="48" y="308.3" width="2" height="0.6"/><rect x="73" y="308.3" width="2" height="0.6"/></g>
<rect x="36.5" y="312.8" width="8" height="4.6" rx="1" fill="#232528"/>
<path d="M35.0,318.5 Q35.0,316 37.5,316 H43.5 Q46.0,316 46.0,318.5 V321.5 Q46.0,325.5 42.5,325.5 H38.5 Q35.0,325.5 35.0,321.5 Z" fill="#313336"/>
<rect x="36.9" y="317.3" width="1.6" height="6.5" fill="#46484c"/>
<rect x="41.3" y="317.3" width="1.2" height="6.5" fill="#404246"/>
<rect x="50.5" y="312.8" width="8" height="4.6" rx="1" fill="#232528"/>
<path d="M49.0,318.5 Q49.0,316 51.5,316 H57.5 Q60.0,316 60.0,318.5 V321.5 Q60.0,325.5 56.5,325.5 H52.5 Q49.0,325.5 49.0,321.5 Z" fill="#313336"/>
<rect x="50.9" y="317.3" width="1.6" height="6.5" fill="#46484c"/>
<rect x="55.3" y="317.3" width="1.2" height="6.5" fill="#404246"/>
<rect x="64.5" y="312.8" width="8" height="4.6" rx="1" fill="#232528"/>
<path d="M63.0,318.5 Q63.0,316 65.5,316 H71.5 Q74.0,316 74.0,318.5 V321.5 Q74.0,325.5 70.5,325.5 H66.5 Q63.0,325.5 63.0,321.5 Z" fill="#313336"/>
<rect x="64.9" y="317.3" width="1.6" height="6.5" fill="#46484c"/>
<rect x="69.3" y="317.3" width="1.2" height="6.5" fill="#404246"/>
<rect x="78.5" y="312.8" width="8" height="4.6" rx="1" fill="#232528"/>
<path d="M77.0,318.5 Q77.0,316 79.5,316 H85.5 Q88.0,316 88.0,318.5 V321.5 Q88.0,325.5 84.5,325.5 H80.5 Q77.0,325.5 77.0,321.5 Z" fill="#313336"/>
<rect x="78.9" y="317.3" width="1.6" height="6.5" fill="#46484c"/>
<rect x="83.3" y="317.3" width="1.2" height="6.5" fill="#404246"/>
</g>
<g transform="translate(331.3,0)">
<path d="M32.4,221 H47.7 V243.4 H45.2 V251 H34.8 V243.4 H32.4 V238.2 H42.5 V230.9 Q42.5,228.7 40.3,228.7 H37.3 V233 H32.4 Z" fill="#202226"/>
<path d="M76.9,221 H92.2 V243.4 H89.7 V251 H79.30000000000001 V243.4 H76.9 V238.2 H87.0 V230.9 Q87.0,228.7 84.80000000000001,228.7 H81.80000000000001 V233 H76.9 Z" fill="#202226"/>
<rect x="31.8" y="250" width="60.8" height="63.8" rx="2" fill="#1c1e22" stroke="#4a4c50" stroke-width="0.5"/>
<circle cx="30.6" cy="251" r="1.9" fill="#2a2c30" stroke="#9a9a9a" stroke-width="0.7"/>
<circle cx="93.8" cy="251" r="1.9" fill="#2a2c30" stroke="#9a9a9a" stroke-width="0.7"/>
<circle cx="30.6" cy="314" r="1.9" fill="#2a2c30" stroke="#9a9a9a" stroke-width="0.7"/>
<circle cx="93.8" cy="314" r="1.9" fill="#2a2c30" stroke="#9a9a9a" stroke-width="0.7"/>
<clipPath id="cl331"><rect x="33.7" y="252.5" width="56" height="34.5"/></clipPath>
<g clip-path="url(#cl331)">
<rect x="33.7" y="252.5" width="56" height="34.5" fill="#0a0c14"/>
<g stroke="#75767a" stroke-width="1.0">
<line x1="30" y1="191.20" x2="95" y2="165.20"/>
<line x1="30" y1="194.90" x2="95" y2="168.90"/>
<line x1="30" y1="198.60" x2="95" y2="172.60"/>
<line x1="30" y1="202.30" x2="95" y2="176.30"/>
<line x1="30" y1="206.00" x2="95" y2="180.00"/>
<line x1="30" y1="209.70" x2="95" y2="183.70"/>
<line x1="30" y1="213.40" x2="95" y2="187.40"/>
<line x1="30" y1="217.10" x2="95" y2="191.10"/>
<line x1="30" y1="220.80" x2="95" y2="194.80"/>
<line x1="30" y1="224.50" x2="95" y2="198.50"/>
<line x1="30" y1="228.20" x2="95" y2="202.20"/>
<line x1="30" y1="231.90" x2="95" y2="205.90"/>
<line x1="30" y1="235.60" x2="95" y2="209.60"/>
<line x1="30" y1="239.30" x2="95" y2="213.30"/>
<line x1="30" y1="243.00" x2="95" y2="217.00"/>
<line x1="30" y1="246.70" x2="95" y2="220.70"/>
<line x1="30" y1="250.40" x2="95" y2="224.40"/>
<line x1="30" y1="254.10" x2="95" y2="228.10"/>
<line x1="30" y1="257.80" x2="95" y2="231.80"/>
<line x1="30" y1="261.50" x2="95" y2="235.50"/>
<line x1="30" y1="265.20" x2="95" y2="239.20"/>
<line x1="30" y1="268.90" x2="95" y2="242.90"/>
<line x1="30" y1="272.60" x2="95" y2="246.60"/>
<line x1="30" y1="276.30" x2="95" y2="250.30"/>
<line x1="30" y1="280.00" x2="95" y2="254.00"/>
<line x1="30" y1="283.70" x2="95" y2="257.70"/>
<line x1="30" y1="287.40" x2="95" y2="261.40"/>
<line x1="30" y1="291.10" x2="95" y2="265.10"/>
<line x1="30" y1="294.80" x2="95" y2="268.80"/>
<line x1="30" y1="298.50" x2="95" y2="272.50"/>
<line x1="30" y1="302.20" x2="95" y2="276.20"/>
<line x1="30" y1="305.90" x2="95" y2="279.90"/>
<line x1="30" y1="309.60" x2="95" y2="283.60"/>
<line x1="30" y1="313.30" x2="95" y2="287.30"/>
<line x1="30" y1="317.00" x2="95" y2="291.00"/>
<line x1="30" y1="320.70" x2="95" y2="294.70"/>
<line x1="30" y1="324.40" x2="95" y2="298.40"/>
<line x1="30" y1="328.10" x2="95" y2="302.10"/>
</g></g>
<rect x="41.6" y="288" width="39.7" height="21.8" fill="#fff"/>
<g fill="#4a4a4a"><rect x="55.3" y="290.9" width="2.2" height="2.1"/><rect x="58" y="290.9" width="1.8" height="2.1"/><rect x="60.3" y="290.9" width="2" height="2.1"/><rect x="62.7" y="290.9" width="1.8" height="2.1"/><rect x="65.2" y="290.9" width="1.2" height="2.1"/><rect x="66.8" y="290.9" width="1.3" height="2.1"/></g>
<g fill="#b8b8b8"><rect x="48.2" y="294.7" width="3.3" height="0.9"/><rect x="52.5" y="294.7" width="5.7" height="0.9"/><rect x="62" y="294.7" width="9" height="0.9"/><rect x="73.3" y="294.7" width="2.3" height="0.9"/></g>
<g fill="#2e2e2e">
<rect x="47.3" y="297.2" width="0.9" height="3.8"/>
<rect x="48.7" y="297.2" width="1.4" height="3.8"/>
<rect x="51.5" y="297.2" width="1.2" height="3.8"/>
<rect x="53.2" y="297.2" width="0.7" height="3.8"/>
<rect x="54.3" y="297.2" width="1.0" height="3.8"/>
<rect x="57.0" y="297.2" width="0.45" height="3.8"/>
<rect x="58.2" y="297.2" width="0.9" height="3.8"/>
<rect x="59.5" y="297.2" width="1.0" height="3.8"/>
<rect x="61.5" y="297.2" width="1.3" height="3.8"/>
<rect x="63.3" y="297.2" width="0.6" height="3.8"/>
<rect x="64.4" y="297.2" width="1.3" height="3.8"/>
<rect x="67.1" y="297.2" width="1.4" height="3.8"/>
<rect x="68.9" y="297.2" width="1.5" height="3.8"/>
<rect x="72.8" y="297.2" width="1.0" height="3.8"/>
<rect x="74.4" y="297.2" width="1.2" height="3.8"/>
</g>
<rect x="57.05" y="296.5" width="0.35" height="6.2" fill="#777"/>
<g fill="#3a3a3a"><rect x="51" y="305" width="1.6" height="1.5"/><rect x="53" y="305" width="1.6" height="1.5"/><rect x="55" y="305" width="1.4" height="1.5"/><rect x="56.8" y="305" width="1.5" height="1.5"/><rect x="58.7" y="305" width="1.3" height="1.5"/></g>
<path d="M60.5,307.4 L61.6,303.6 H70.2 L69.1,307.4 Z" fill="#e5262a"/>
<g fill="#fff"><rect x="62.6" y="304.6" width="0.5" height="1.8"/><rect x="65" y="304.6" width="0.5" height="1.8"/><rect x="67.4" y="304.6" width="0.5" height="1.8"/></g>
<g fill="#ccc"><rect x="48" y="308.3" width="2" height="0.6"/><rect x="73" y="308.3" width="2" height="0.6"/></g>
<rect x="36.5" y="312.8" width="8" height="4.6" rx="1" fill="#232528"/>
<path d="M35.0,318.5 Q35.0,316 37.5,316 H43.5 Q46.0,316 46.0,318.5 V321.5 Q46.0,325.5 42.5,325.5 H38.5 Q35.0,325.5 35.0,321.5 Z" fill="#313336"/>
<rect x="36.9" y="317.3" width="1.6" height="6.5" fill="#46484c"/>
<rect x="41.3" y="317.3" width="1.2" height="6.5" fill="#404246"/>
<rect x="50.5" y="312.8" width="8" height="4.6" rx="1" fill="#232528"/>
<path d="M49.0,318.5 Q49.0,316 51.5,316 H57.5 Q60.0,316 60.0,318.5 V321.5 Q60.0,325.5 56.5,325.5 H52.5 Q49.0,325.5 49.0,321.5 Z" fill="#313336"/>
<rect x="50.9" y="317.3" width="1.6" height="6.5" fill="#46484c"/>
<rect x="55.3" y="317.3" width="1.2" height="6.5" fill="#404246"/>
<rect x="64.5" y="312.8" width="8" height="4.6" rx="1" fill="#232528"/>
<path d="M63.0,318.5 Q63.0,316 65.5,316 H71.5 Q74.0,316 74.0,318.5 V321.5 Q74.0,325.5 70.5,325.5 H66.5 Q63.0,325.5 63.0,321.5 Z" fill="#313336"/>
<rect x="64.9" y="317.3" width="1.6" height="6.5" fill="#46484c"/>
<rect x="69.3" y="317.3" width="1.2" height="6.5" fill="#404246"/>
<rect x="78.5" y="312.8" width="8" height="4.6" rx="1" fill="#232528"/>
<path d="M77.0,318.5 Q77.0,316 79.5,316 H85.5 Q88.0,316 88.0,318.5 V321.5 Q88.0,325.5 84.5,325.5 H80.5 Q77.0,325.5 77.0,321.5 Z" fill="#313336"/>
<rect x="78.9" y="317.3" width="1.6" height="6.5" fill="#46484c"/>
<rect x="83.3" y="317.3" width="1.2" height="6.5" fill="#404246"/>
</g>

<defs>
<linearGradient id="front" x1="552" y1="0" x2="652" y2="0" gradientUnits="userSpaceOnUse">
<stop offset="0" stop-color="#f4f4f4"/><stop offset="0.12" stop-color="#fbfbfb"/><stop offset="0.55" stop-color="#ffffff"/><stop offset="0.6" stop-color="#f5f5f5"/><stop offset="1" stop-color="#ececec"/>
</linearGradient>
<linearGradient id="col" x1="652.3" y1="0" x2="679" y2="0" gradientUnits="userSpaceOnUse">
<stop offset="0" stop-color="#c0c0c0"/><stop offset="0.06" stop-color="#ededed"/><stop offset="0.35" stop-color="#d6d6d6"/><stop offset="0.68" stop-color="#a9a9a9"/><stop offset="0.74" stop-color="#8e8e8e"/><stop offset="0.79" stop-color="#dadada"/><stop offset="0.92" stop-color="#d2d2d2"/><stop offset="1" stop-color="#888888"/>
</linearGradient>
<linearGradient id="side" x1="679.6" y1="0" x2="691.3" y2="0" gradientUnits="userSpaceOnUse">
<stop offset="0" stop-color="#404040"/><stop offset="0.2" stop-color="#121212"/><stop offset="1" stop-color="#0a0a0a"/>
</linearGradient>
<linearGradient id="cap" x1="552" y1="0" x2="691" y2="0" gradientUnits="userSpaceOnUse">
<stop offset="0" stop-color="#e8e8e8"/><stop offset="0.5" stop-color="#dadada"/><stop offset="0.8" stop-color="#c0c0c0"/><stop offset="1" stop-color="#a4a4a4"/>
</linearGradient>
</defs>
<path d="M679.6,96 L691.3,90.7 V271.5 L678.8,284 Z" fill="url(#side)"/>
<path d="M679,271.5 L691.4,271.5 L676,292 Q672,297 664,297 H652.3 V280 Z" fill="#dedede"/>
<path d="M652.3,98.6 H679 V284 L672,293 Q669,297 664,297 H652.3 Z" fill="url(#col)"/>
<path d="M552.1,91 C575,88.5 612,87.5 652.3,98.6 V296.8 L560,283.4 Q554.5,282 554.5,276 Z" fill="url(#front)"/>
<path d="M552.1,91 L554.5,276 Q554.5,282 560,283.4 L652.3,296.8 H664 Q672,297 676,292 L691.4,271.5" fill="none" stroke="#b0b0b0" stroke-width="0.9"/>
<path d="M552.1,91 C570,84 590,78.5 621,78.3 C650,78.5 675,84 691.4,90.7 L679,98.6 H652.3 C612,87.5 575,88.5 552.1,91 Z" fill="url(#cap)"/>
<path d="M578,86 C600,82 650,82.5 682,94.5" fill="none" stroke="#b4b4b4" stroke-width="0.6"/>
<circle cx="624.3" cy="82.9" r="0.7" fill="#777"/>
<path d="M630,78.5 C655,79.5 675,84 691.4,90.7" fill="none" stroke="#ababab" stroke-width="0.6"/>
<line x1="558.4" y1="92" x2="561.5" y2="284" stroke="#cdcdcd" stroke-width="0.9"/>
<line x1="652.3" y1="98.6" x2="652.3" y2="296.8" stroke="#9a9a9a" stroke-width="0.8"/>
<line x1="679" y1="98.6" x2="679" y2="284" stroke="#8a8a8a" stroke-width="0.6"/>
<g stroke="#969696" stroke-width="0.75" fill="none">
<path d="M559.0,116.3 Q600,122.7 652,125.3"/>
<path d="M559.3,138.6 Q600,145.0 652,147.6"/>
<path d="M559.6,160.0 Q600,166.4 652,169.0"/>
<path d="M560.0,181.6 Q600,188.0 652,190.6"/>
<path d="M560.3,202.6 Q600,209.0 652,211.6"/>
<path d="M560.6,223.4 Q600,229.8 652,232.4"/>
<path d="M561,245 L571,246.3"/>
<path d="M640.6,256 L652,257.3"/>
<path d="M640.6,277 L652,278.4"/>
</g>
<path d="M570.9,247.1 L640.6,256 V276 L574,267.8 V285.5 H571.5 Z" fill="#5f6266"/>
<path d="M588,254.2 L617.6,258.9 V267.8 L588,264.8 Z" fill="#1e1e1e"/>
<path d="M589,254.4 L617.6,258.9 V266.8 L589,263.6 Z" fill="#dadada"/>
<rect x="571.8" y="248.6" width="6" height="3.4" fill="#cfcfcf"/>
<path d="M578.6,250.3 L586.3,251.2 V253.6 L578.6,252.8 Z" fill="#e8262a"/>
<rect x="572" y="263" width="6.5" height="2.4" fill="#4a4c50"/>
<path d="M579.2,263.6 L584.5,264.2 V266.4 L579.2,265.8 Z" fill="#e8262a"/>
<g stroke="#9a9ca0" stroke-width="0.55">
<line x1="624" y1="262" x2="632" y2="263"/>
<line x1="624" y1="265.3" x2="638" y2="266.9"/>
<line x1="624" y1="268.6" x2="628" y2="269.1"/>
<line x1="624" y1="272" x2="639.5" y2="273.8"/>
</g>
<g>
<ellipse cx="667.2" cy="107" rx="5.6" ry="5.2" fill="#fafafa" transform="rotate(-40 667.2 107)"/>
<path d="M663.5,109.5 C662.5,105 666,101.5 671,101 C673.5,101 673.5,104 672.5,107 C671.5,110.5 666,112 663.5,109.5 Z" fill="#1a1a1a"/>
<ellipse cx="666.6" cy="200.6" rx="5.6" ry="4.2" fill="#fafafa" transform="rotate(-25 666.6 200.6)"/>
<path d="M662.5,202.5 C662,199.5 665.5,196.8 670,196.5 C672.5,196.5 672.5,199 671.5,201 C670.5,203.5 665,205 662.5,202.5 Z" fill="#1a1a1a"/>
<ellipse cx="666" cy="289" rx="5.4" ry="4.8" fill="#fafafa" transform="rotate(-30 666 289)"/>
<path d="M662.5,291.5 C662,288 665,284.5 669.5,284 C672,284 672,287 671,289.5 C670,292.5 665,294 662.5,291.5 Z" fill="#1a1a1a"/>
</g>

</svg>
</body></html>
